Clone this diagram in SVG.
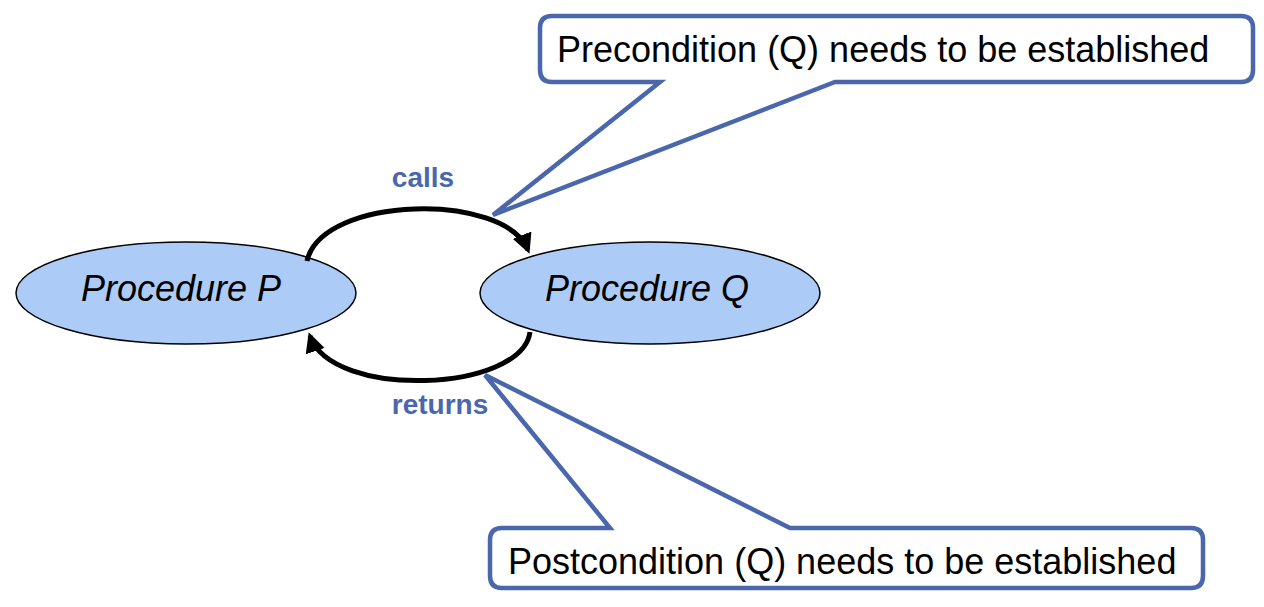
<svg xmlns="http://www.w3.org/2000/svg" width="1264" height="607" viewBox="0 0 1264 607">
<style>
.node{fill:#adcbf7;stroke:#000;stroke-width:1.5}
.nlabel{font-family:"Liberation Sans",Arial,sans-serif;font-style:italic;font-size:36px;fill:#000;text-anchor:middle}
.callout{fill:#fff;stroke:#4a67ae;stroke-width:4.5}
.ctext{font-family:"Liberation Sans",Arial,sans-serif;font-size:36px;fill:#000}
.arc{fill:none;stroke:#000;stroke-width:5}
.elabel{font-family:"Liberation Sans",Arial,sans-serif;font-weight:bold;font-size:28px;fill:#4a67ae;text-anchor:middle}
</style>
<defs>
<marker id="ah" viewBox="0 0 10 10" refX="8" refY="5" markerWidth="4" markerHeight="4" orient="auto" markerUnits="strokeWidth">
<path d="M0,0 L10,5 L0,10 Z" fill="#000"/>
</marker>
</defs>
<g id="nodeP">
<ellipse class="node" cx="186" cy="293" rx="170" ry="51"/>
<text class="nlabel" x="181" y="301">Procedure P</text>
</g>
<g id="nodeQ">
<ellipse class="node" cx="650" cy="293" rx="170" ry="51"/>
<text class="nlabel" x="647" y="301">Procedure Q</text>
</g>
<g id="connectors">
<path class="arc" d="M307,261 C322,195 505,192 528,250" marker-end="url(#ah)"/>
<path class="arc" d="M530,332 C522,392 332,400 310,336" marker-end="url(#ah)"/>
<text class="elabel" x="423" y="187">calls</text>
<text class="elabel" x="440" y="414">returns</text>
</g>
<g id="calloutPre">
<path class="callout" d="M552,16 H1241 Q1253,16 1253,28 V70 Q1253,82 1241,82 H835 L493,215 L660,82 H552 Q540,82 540,70 V28 Q540,16 552,16 Z"/>
<text class="ctext" x="557" y="62">Precondition (Q) needs to be established</text>
</g>
<g id="calloutPost">
<path class="callout" d="M502,528 H610 L485,375 L790,528 H1191 Q1203,528 1203,540 V576 Q1203,588 1191,588 H502 Q490,588 490,576 V540 Q490,528 502,528 Z"/>
<text class="ctext" x="508" y="574">Postcondition (Q) needs to be established</text>
</g>
</svg>
